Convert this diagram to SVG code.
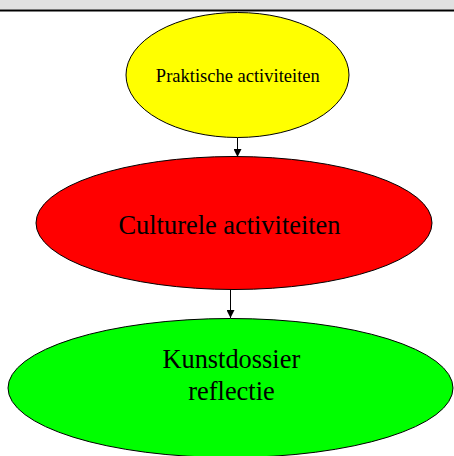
<svg xmlns="http://www.w3.org/2000/svg" width="454" height="456" viewBox="0 0 454 456">
  <style>
    .node { stroke: #000; stroke-width: 1; }
    .label { font-family: "Liberation Serif", "Times New Roman", serif; fill: #000; text-anchor: middle; }
    .edge { stroke: #000; stroke-width: 1; fill: none; }
  </style>
  <defs>
    <marker id="arrow" markerWidth="8" markerHeight="8" refX="8" refY="4" orient="auto" markerUnits="userSpaceOnUse">
      <path d="M0,0 L8,4 L0,8 Z" fill="#000"/>
    </marker>
  </defs>
  <rect x="0" y="0" width="454" height="456" fill="#fff"/>
  <!-- header bar -->
  <rect x="0" y="0" width="454" height="9.5" fill="#e0e0e0"/>
  <line x1="0" y1="10.5" x2="454" y2="10.5" stroke="#000" stroke-width="2"/>

  <g id="connectors">
    <line class="edge" x1="237.5" y1="137.5" x2="237.5" y2="157" marker-end="url(#arrow)"/>
    <line class="edge" x1="230.5" y1="289.5" x2="230.5" y2="318" marker-end="url(#arrow)"/>
  </g>

  <g id="praktische">
    <ellipse class="node" cx="237.5" cy="75" rx="111.5" ry="62.5" fill="#ffff00"/>
    <text class="label" x="237.8" y="81.5" font-size="18.5">Praktische activiteiten</text>
  </g>

  <g id="culturele">
    <ellipse class="node" cx="234" cy="223" rx="198" ry="66.5" fill="#ff0000"/>
    <text class="label" x="229.5" y="234.3" font-size="26.4">Culturele activiteiten</text>
  </g>

  <g id="kunstdossier">
    <ellipse class="node" cx="230.5" cy="388" rx="222.5" ry="69.5" fill="#00ff00"/>
    <text class="label" x="231.3" y="368.3" font-size="26.4">Kunstdossier</text>
    <text class="label" x="231.5" y="400" font-size="26.4">reflectie</text>
  </g>
</svg>
